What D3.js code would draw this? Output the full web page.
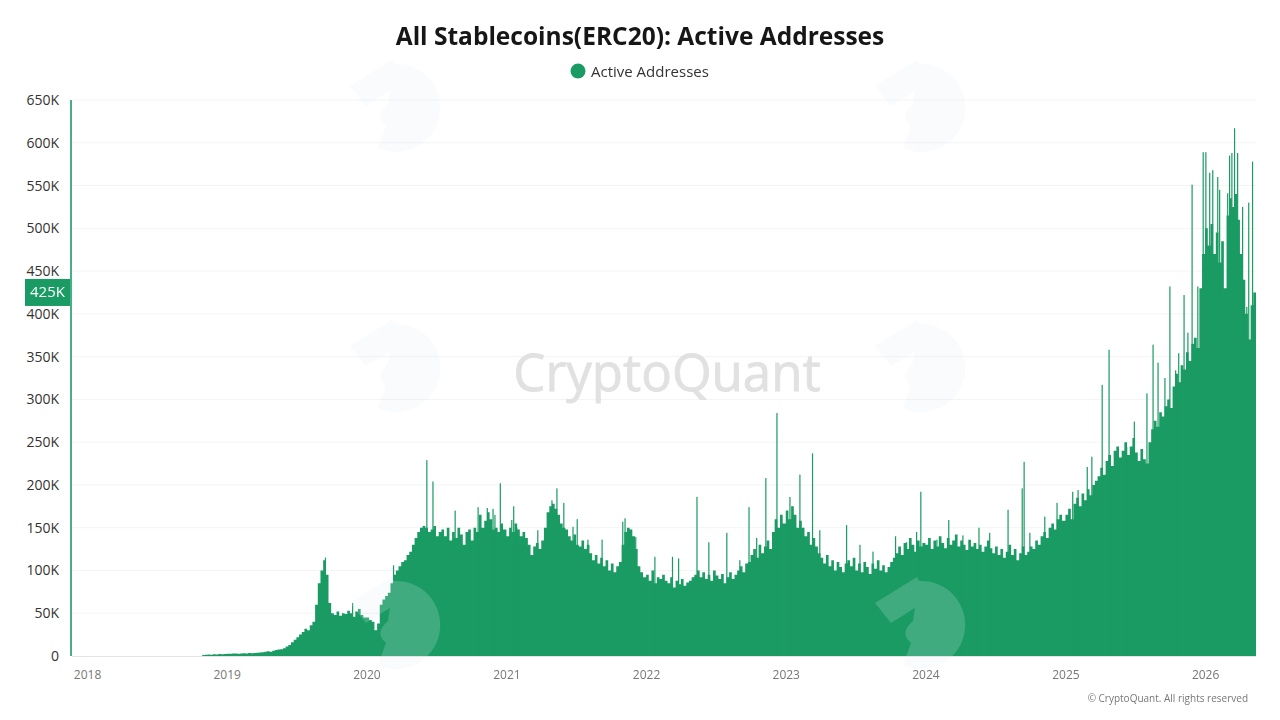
<!DOCTYPE html>
<html>
<head>
<meta charset="utf-8">
<script src="https://cdn.jsdelivr.net/npm/d3@7"></script>
<style>
  html, body { margin: 0; padding: 0; background: #fff; }
  svg { display: block; font-family: "Open Sans", "Noto Sans", sans-serif; }
</style>
</head>
<body>
<svg id="chart" width="1280" height="720"></svg>
<script>
// weekly active addresses (thousands), each list starts at its year's first date
const start2018 = '2018-10-29';
const act2018 = [1.2, 1.5, 1.8, 1.6, 2.0, 1.9, 2.2, 2.1, 2.4];
const act2019 = [2.5, 2.6, 2.8, 3, 2.7, 3, 3.2, 3, 3.4, 3.3, 3.6, 3.8, 4,
  4.5, 5, 5.5, 5, 6, 7, 7.5, 8,
  9, 11, 13, 16, 19, 22, 25,
  28, 32, 30, 36, 40,
  60, 85, 100, 112, 95, 62,
  50, 48, 52, 47, 50, 49, 53, 50, 46, 52, 55, 48, 45];
const act2020 = [45, 42, 40, 30, 38,
  60, 66, 70, 74, 85,
  95, 100, 105, 110, 112, 118, 122,
  130, 138, 145, 150, 152,
  150, 145, 148, 152, 140, 145, 148,
  140, 150, 135, 145, 138, 150, 142, 130, 145, 148, 135, 150, 145,
  165, 150, 158, 168, 160, 148,
  150, 145, 155, 148];
const act2021 = [140, 150, 145, 155, 148, 140, 145, 138,
  130, 118, 128, 132, 125, 135,
  150, 168, 175, 178, 172, 165, 155, 150,
  148, 140, 135, 142, 130, 128, 135, 125, 130,
  120, 112, 118, 108, 115, 105, 112, 100, 108, 98, 105, 110,
  130, 145, 150, 148, 140, 125,
  105, 98, 92];
const act2022 = [95, 88, 100, 85, 92, 90,
  95, 88, 85, 92, 80, 88, 84, 90, 82, 86, 88, 92,
  95, 100, 92, 98, 90, 95, 88, 100, 94, 90, 96, 85, 92, 98, 90, 95, 100, 105, 98, 108,
  110, 118, 125, 115, 130, 120, 128, 135, 125,
  145, 160, 150, 165, 155];
const act2023 = [170, 160, 175, 165, 150, 158,
  150, 140, 145, 130, 138, 128, 120,
  115, 108, 118, 105, 112, 100, 110, 104, 98, 108,
  112, 105, 115, 100, 108, 98, 110, 104, 96, 108, 102, 112, 100, 106, 98, 104, 110, 115,
  120, 128, 118, 132, 125, 138, 130, 122, 135, 128, 132];
const act2024 = [130, 138, 125, 135, 128, 140, 132, 126, 138, 130, 135, 142, 128,
  135, 130, 124, 136, 128, 132, 125, 130, 122, 128, 135, 126,
  120, 128, 118, 125, 115, 122, 130, 118, 125, 112, 120, 128,
  118, 122, 128, 125, 135, 130, 140, 145, 138, 150, 155, 148, 160, 165, 158];
const act2025 = [165, 172, 160, 178, 185, 175, 190, 182, 195, 188, 200, 205,
  210, 220, 212, 228, 235, 222, 240, 245, 232,
  240, 250, 235, 245, 255, 238, 228, 242, 230, 225,
  250, 265, 275, 268, 285, 280, 292, 300, 290,
  315, 330, 320, 340, 335, 355, 345, 365, 372, 360,
  430, 470];
const act2026 = [500, 480, 505, 470, 495, 460, 485, 430,
  515, 535, 525, 540, 510,
  470, 440, 400, 370, 410, 425];

// single-day peaks standing out of the weekly body (thousands)
const spikeDates = [
  '2019-09-16', '2019-11-26', '2020-03-12', '2020-06-07', '2020-06-23', '2020-08-20',
  '2020-10-19', '2020-11-12', '2020-11-27', '2020-12-02', '2020-12-16', '2021-01-15',
  '2021-01-20', '2021-01-28', '2021-03-24', '2021-04-30', '2021-05-13', '2021-05-31',
  '2021-06-24', '2021-07-05', '2021-08-02', '2021-09-08', '2021-11-01', '2021-11-07',
  '2021-12-05', '2022-01-24', '2022-03-11', '2022-03-27', '2022-05-14', '2022-06-14',
  '2022-07-31', '2022-09-03', '2022-09-27', '2022-10-17', '2022-11-10', '2022-12-09',
  '2023-01-12', '2023-02-07', '2023-03-12', '2023-03-31', '2023-06-09', '2023-07-14',
  '2023-08-17', '2023-10-15', '2023-11-13', '2023-12-09', '2023-12-20', '2024-01-31',
  '2024-03-02', '2024-04-08', '2024-05-20', '2024-06-17', '2024-08-04', '2024-09-10',
  '2024-09-15', '2024-09-30', '2024-11-08', '2024-12-10', '2025-01-20', '2025-02-03',
  '2025-02-27', '2025-03-11', '2025-04-07', '2025-04-25', '2025-06-10', '2025-06-30',
  '2025-08-02', '2025-08-18', '2025-08-31', '2025-09-18', '2025-10-01', '2025-10-16',
  '2025-10-24', '2025-11-07', '2025-11-17', '2025-11-28', '2025-12-13', '2025-12-27',
  '2026-01-03', '2026-01-13', '2026-01-21', '2026-02-03', '2026-02-08', '2026-03-01',
  '2026-03-06', '2026-03-12', '2026-03-19', '2026-03-27', '2026-04-09', '2026-04-20',
  '2026-04-25', '2026-05-05'];
const spikeValues = [
  115, 62, 106, 229, 204, 170,
  174, 173, 172, 165, 202, 159,
  175, 150, 147, 182, 196, 179,
  151, 160, 136, 136, 157, 161,
  139, 116, 116, 114, 186, 133,
  144, 112, 174, 138, 208, 284,
  186, 212, 237, 147, 153, 130,
  122, 140, 133, 145, 192, 136,
  159, 141, 150, 144, 171, 196,
  227, 144, 163, 179, 192, 194,
  221, 233, 317, 358, 244, 274,
  307, 364, 343, 325, 432, 334,
  354, 422, 378, 551, 432, 589,
  589, 565, 568, 560, 545, 541,
  585, 588, 617, 588, 525, 408,
  530, 578];

const yTicks = [0, 50, 100, 150, 200, 250, 300, 350, 400, 450, 500, 550, 600, 650];
const yearTicks = [2018, 2019, 2020, 2021, 2022, 2023, 2024, 2025, 2026];
const lastValue = 425;

const green = '#1a9b63';
const parse = d3.timeParse('%Y-%m-%d');
const DAY = 864e5;

const weekly = [];
function addYear(first, vals) {
    vals.forEach((v, i) => weekly.push({ date: new Date(first.getTime() + i * 7 * DAY), value: v }));
}
addYear(parse(start2018), act2018);
[[2019, act2019], [2020, act2020], [2021, act2021], [2022, act2022], [2023, act2023],
 [2024, act2024], [2025, act2025], [2026, act2026]].forEach(([y, vals]) => addYear(new Date(y, 0, 1), vals));
// close the last week so the step reaches its end
const lastWeek = weekly[weekly.length - 1];
const stepData = weekly.concat([{ date: new Date(lastWeek.date.getTime() + 7 * DAY), value: lastWeek.value }]);

const spikes = spikeDates.map((d, i) => ({ date: parse(d), value: spikeValues[i] }));

const svg = d3.select('#chart');

const x = d3.scaleTime()
    .domain([new Date(2017, 10, 20), new Date(2026, 4, 14)])
    .range([71, 1256]);
const y = d3.scaleLinear()
    .domain([0, 650])
    .range([656, 100]);

// grid
svg.append('g')
    .selectAll('line')
    .data(yTicks.slice(1))
    .enter().append('line')
    .attr('x1', 72).attr('x2', 1256)
    .attr('y1', d => y(d)).attr('y2', d => y(d))
    .attr('stroke', '#f3f4f6')
    .attr('stroke-width', 1);

// big text watermark
svg.append('text')
    .attr('x', 667).attr('y', 391)
    .attr('text-anchor', 'middle')
    .attr('font-size', 51)
    .attr('fill', '#e1e1e1')
    .attr('stroke', '#e1e1e1')
    .attr('stroke-width', 0.8)
    .text('CryptoQuant');

// weekly body + daily spikes
const area = d3.area()
    .x(d => x(d.date))
    .y0(y(0))
    .y1(d => y(d.value))
    .curve(d3.curveStepAfter);

svg.append('path')
    .datum(stepData)
    .attr('d', area)
    .attr('fill', green);

svg.append('g')
    .selectAll('rect')
    .data(spikes)
    .enter().append('rect')
    .attr('x', d => x(d.date) - 0.6)
    .attr('width', 1.2)
    .attr('y', d => y(d.value))
    .attr('height', d => y(0) - y(d.value))
    .attr('fill', green);

// logo watermarks
const logoSpots = [[400, 108], [925, 108], [400, 368], [925, 368], [400, 625], [925, 625]];
const logo = svg.append('g').attr('fill', 'rgb(226,232,244)').attr('opacity', 0.2);
logoSpots.forEach(([cx, cy]) => {
    const g = logo.append('g').attr('transform', `translate(${cx},${cy})`);
    g.append('path')
        .attr('d', 'M-50,-22 L-8,-48 L4,-26 L-34,-2 Z');
    g.append('path')
        .attr('d', 'M-6,-44 A44,44 0 1 1 -22,40 L-14,18 Q-26,8 -12,-4 Z');
});

// axes
svg.append('line')
    .attr('x1', 72).attr('x2', 1256)
    .attr('y1', 656.5).attr('y2', 656.5)
    .attr('stroke', '#e3e3e3');
svg.append('line')
    .attr('x1', 71).attr('x2', 71)
    .attr('y1', 100).attr('y2', 656)
    .attr('stroke', green)
    .attr('stroke-width', 1.6);

const yAxis = svg.append('g')
    .attr('transform', 'translate(59,0)')
    .call(d3.axisLeft(y).tickValues(yTicks).tickSize(0).tickPadding(0)
        .tickFormat(d => d === 0 ? '0' : d + 'K'));
yAxis.select('.domain').remove();
yAxis.selectAll('text')
    .attr('font-family', '"Open Sans", sans-serif')
    .attr('font-size', 14)
    .attr('fill', '#333');

const xAxis = svg.append('g')
    .attr('transform', 'translate(0,666)')
    .call(d3.axisBottom(x).tickValues(yearTicks.map(yr => new Date(yr, 0, 1))).tickSize(0).tickPadding(4)
        .tickFormat(d3.timeFormat('%Y')));
xAxis.select('.domain').remove();
xAxis.selectAll('text')
    .attr('font-family', '"Open Sans", sans-serif')
    .attr('font-size', 12)
    .attr('fill', '#777');

// current value badge
svg.append('rect')
    .attr('x', 25).attr('y', y(lastValue) - 13.5)
    .attr('width', 45).attr('height', 27)
    .attr('fill', green);
svg.append('text')
    .attr('x', 47.5).attr('y', y(lastValue) + 5)
    .attr('text-anchor', 'middle')
    .attr('font-size', 15)
    .attr('fill', '#fff')
    .text(lastValue + 'K');

// title and legend
svg.append('text')
    .attr('x', 640).attr('y', 45)
    .attr('text-anchor', 'middle')
    .attr('font-size', 24.5)
    .attr('font-weight', 700)
    .attr('fill', '#161616')
    .text('All Stablecoins(ERC20): Active Addresses');
svg.append('circle')
    .attr('cx', 578).attr('cy', 71).attr('r', 7.5)
    .attr('fill', green);
svg.append('text')
    .attr('x', 591).attr('y', 77)
    .attr('font-size', 15)
    .attr('fill', '#333')
    .text('Active Addresses');

svg.append('text')
    .attr('x', 1248).attr('y', 702)
    .attr('text-anchor', 'end')
    .attr('font-size', 10)
    .attr('fill', '#777')
    .text('© CryptoQuant. All rights reserved');
</script>
</body>
</html>
